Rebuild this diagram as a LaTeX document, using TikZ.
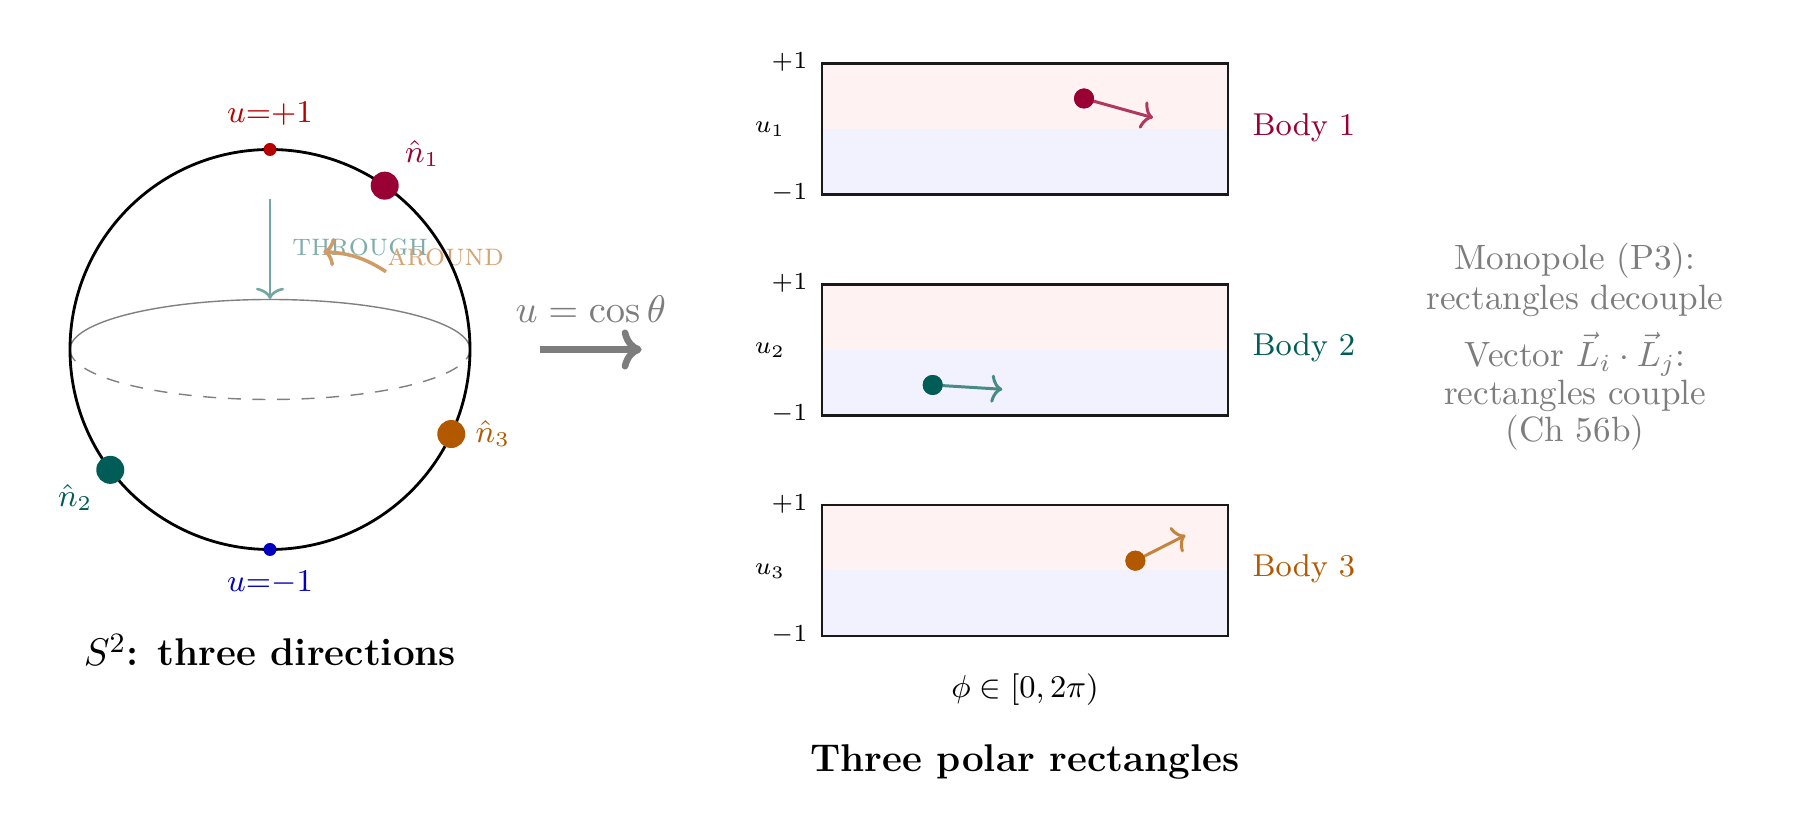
\documentclass[tikz,border=0pt]{standalone}
\usetikzlibrary{arrows.meta,calc,bending}
\definecolor{crim}{RGB}{153,0,51}
\definecolor{tealc}{RGB}{0,92,87}
\definecolor{oran}{RGB}{178,89,0}
\definecolor{polered}{RGB}{185,0,0}
\definecolor{poleblue}{RGB}{0,0,190}
\definecolor{grayt}{RGB}{125,125,125}
\tikzset{
  sphereline/.style={line width=0.8pt},
  eqline/.style={draw=black!50, line width=0.4pt},
  bigdot/.style={circle, inner sep=0pt, minimum size=0.28cm},
  poledot/.style={circle, inner sep=0pt, minimum size=0.13cm},
  rdot/.style={circle, inner sep=0pt, minimum size=0.2cm},
  cmtip/.style={-{Computer Modern Rightarrow[length=3.2pt,width=8pt]}},
  rectbox/.style={draw=black!90, line width=0.8pt, inner sep=0pt, minimum width=4.06cm, minimum height=1.31cm},
  lbl/.style={font=\small, inner sep=0pt},
  ticklbl/.style={font=\scriptsize, inner sep=0pt, anchor=base east},
  bodylbl/.style={font=\small, inner sep=0pt, anchor=base west},
  titlelbl/.style={font=\fontsize{11}{13}\selectfont\bfseries, inner sep=0pt, anchor=base},
  notelbl/.style={text=grayt, font=\fontsize{10}{12}\selectfont, inner sep=0pt, anchor=base},
}
\begin{document}
\begin{tikzpicture}
\useasboundingbox (0,0) rectangle (17.97,-8.35);
% ---------- sphere ----------
\coordinate (C) at (2.70,-3.495);
\draw[eqline] ($(C)+(-2,0)$) arc[start angle=180,end angle=0,x radius=2,y radius=0.5];
\draw[eqline, dash pattern=on 3.7pt off 3.3pt] ($(C)+(-2,0)$) arc[start angle=180,end angle=360,x radius=2,y radius=0.5];
\node[anchor=base west, text=tealc!50, font=\small\scshape, inner sep=0pt] (thr) at (2.917,-2.56) {through};
\node[anchor=base west, text=oran!55, font=\small\scshape, inner sep=0pt] (aro) at (3.867,-2.66) {around};
\coordinate (thrS) at (2.70,-1.99);
\coordinate (thrE) at (2.70,-2.99);
\draw[tealc!55, line width=0.75pt, cmtip] (thrS) -- (thrE);
\coordinate (aroS) at (3.86,-2.717);
\coordinate (aroE) at (3.233,-2.517);
\draw[oran!60, line width=1pt, cmtip] (aroS) to[bend right=15] (aroE);
\draw[sphereline] (C) circle[radius=2];
\node[poledot, fill=polered] (np) at ($(C)+(0,2)$) {};
\node[poledot, fill=poleblue] (sp) at ($(C)+(0,-2)$) {};
\node[lbl, text=polered, anchor=base] (npl) at (2.70,-1.227) {$u{=}{+}1$};
\node[lbl, text=poleblue, anchor=base] (spl) at (2.70,-5.917) {$u{=}{-}1$};
\node[bigdot, fill=crim] (n1) at ($(C)+(55:2)$) {};
\node[bigdot, fill=tealc] (n2) at ($(C)+(217:2)$) {};
\node[bigdot, fill=oran] (n3) at ($(C)+(-25:2)$) {};
\node[lbl, text=crim, anchor=base west] (n1l) at (4.043,-1.627) {$\hat n_1$};
\node[lbl, text=tealc, anchor=base west] (n2l) at (0.573,-5.067) {$\hat n_2$};
\node[lbl, text=oran, anchor=base west] (n3l) at (4.75,-4.427) {$\hat n_3$};
\node[titlelbl] (t1) at (2.70,-6.66) {$S^2$: three directions};
% ---------- map arrow ----------
\node[anchor=base, text=grayt, font=\fontsize{11}{13}\selectfont, inner sep=0pt] (map) at (5.908,-3.227) {$u = \cos\theta$};
\coordinate (mapS) at (5.40,-3.495);
\coordinate (mapE) at (6.417,-3.495);
\draw[grayt, line width=1.9pt, -{Computer Modern Rightarrow[length=5.7pt,width=11.4pt]}] (mapS) -- (mapE);
% ---------- rectangles ----------
\foreach \i/\t/\c in {1/0.633/crim, 2/2.842/tealc, 3/5.05/oran}{
  \fill[red!5] (8.22,-\t) rectangle (12.28,-\t-0.655);
  \fill[blue!5] (8.22,-\t-0.655) rectangle (12.28,-\t-1.31);
  \node[rectbox] (R\i) at (10.25,-\t-0.655) {};
  \node[ticklbl] (p\i) at (8.08,-\t-0.053) {$+1$};
  \node[ticklbl] (m\i) at (8.08,-\t-1.367) {$-1$};
  \node[font=\scriptsize, inner sep=0pt, anchor=base] (u\i) at (7.70,-\t-0.695) {$u_\i$};
  \node[bodylbl, text=\c] (B\i) at (12.52,-\t-0.718) {Body \i};
}
\node[rdot, fill=crim] (d1) at (10.84,-0.985) {};
\coordinate (e1) at (11.53,-1.177);
\draw[crim!78, line width=0.85pt, cmtip] (d1.center) -- (e1);
\node[rdot, fill=crim] at (d1) {};
\node[rdot, fill=tealc] (d2) at (9.327,-3.85) {};
\coordinate (e2) at (10.023,-3.893);
\draw[tealc!72, line width=0.85pt, cmtip] (d2.center) -- (e2);
\node[rdot, fill=tealc] at (d2) {};
\node[rdot, fill=oran] (d3) at (11.354,-5.607) {};
\coordinate (e3) at (11.854,-5.353);
\draw[oran!75, line width=0.85pt, cmtip] (d3.center) -- (e3);
\node[rdot, fill=oran] at (d3) {};
\node[font=\small, inner sep=0pt, anchor=base] (phi) at (10.25,-6.98) {$\phi\in[0,2\pi)$};
\node[titlelbl] (t2) at (10.25,-7.717) {Three polar rectangles};
% ---------- notes ----------
\node[notelbl] (mono1) at (15.75,-2.70) {Monopole (P3):};
\node[notelbl] (mono2) at (15.75,-3.093) {rectangles decouple};
\node[notelbl] (vec1) at (15.75,-3.667) {Vector $\vec L_i\cdot\vec L_j$:};
\node[notelbl] (vec2) at (15.75,-4.05) {rectangles couple};
\node[notelbl] (vec3) at (15.75,-4.417) {(Ch 56b)};
\end{tikzpicture}
\end{document}
